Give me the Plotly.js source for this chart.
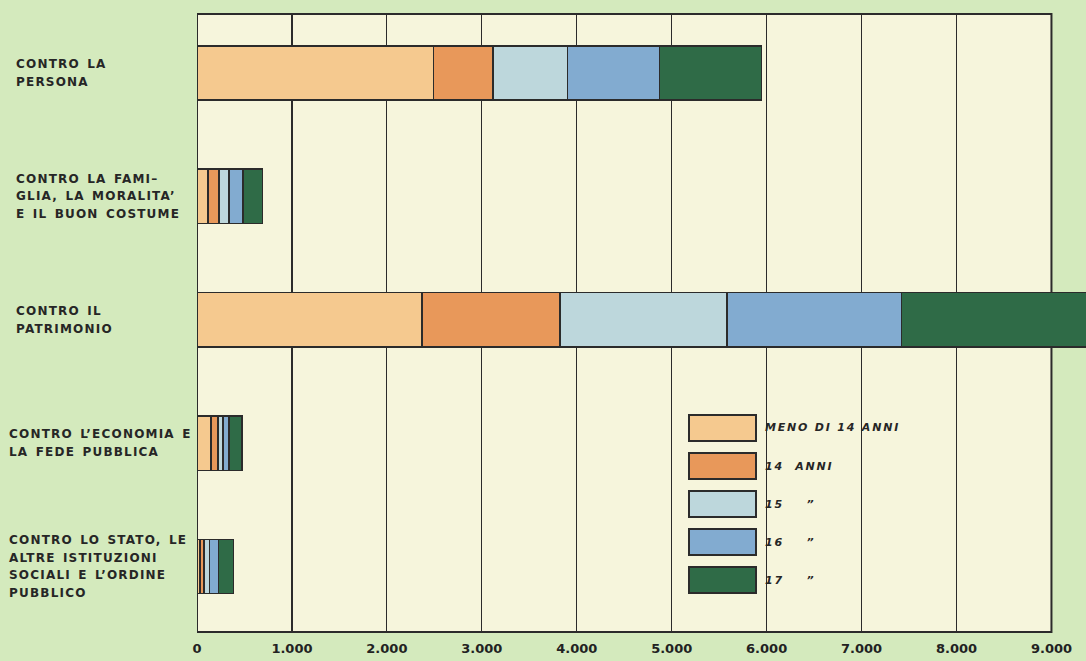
<!DOCTYPE html>
<html>
<head>
<meta charset="utf-8">
<script src="https://cdn.plot.ly/plotly-3.0.1.min.js"></script>
<style>
  html, body { margin: 0; padding: 0; background: #d4eabd; }
  #chart { width: 1086px; height: 661px; }
</style>
</head>
<body>
<div id="chart"></div>
<script>
// ---- data ----
const categories = ['persona', 'famiglia', 'patrimonio', 'economia', 'stato'];
const categoryLines = [
  ['CONTRO LA', 'PERSONA'],
  ['CONTRO LA FAMI\u2013', 'GLIA, LA MORALITA\u2019', 'E IL BUON COSTUME'],
  ['CONTRO IL', 'PATRIMONIO'],
  ['CONTRO L\u2019ECONOMIA E', 'LA FEDE PUBBLICA'],
  ['CONTRO LO STATO, LE', 'ALTRE ISTITUZIONI', 'SOCIALI E L\u2019ORDINE', 'PUBBLICO']
];
const seriesNames = ['MENO DI 14 ANNI', '14 ANNI', '15', '16', '17'];
const legendLabels = ['MENO DI 14 ANNI', '14&nbsp;&nbsp;ANNI', '15&nbsp;&nbsp;&nbsp;&nbsp;\u201D', '16&nbsp;&nbsp;&nbsp;&nbsp;\u201D', '17&nbsp;&nbsp;&nbsp;&nbsp;\u201D'];
const meno14 = [2490, 115, 2370, 150, 30];
const anni14 = [630, 115, 1455, 70, 45];
const anni15 = [780, 105, 1760, 53, 55];
const anni16 = [970, 148, 1835, 63, 95];
const anni17 = [1075, 205, 2050, 137, 160];
const tickVals = [0, 1000, 2000, 3000, 4000, 5000, 6000, 7000, 8000, 9000];
const tickText = ['0', '1.000', '2.000', '3.000', '4.000', '5.000', '6.000', '7.000', '8.000', '9.000'];
const frameMax = 9000;

// ---- styles ----
const colors = ['#f5c98f', '#e8985a', '#bdd7dc', '#82abd0', '#2f6b47'];
const lineColor = '#2b2b2b';
const W = 1086, H = 661, ML = 197, MR = 0, MT = 14, MB = 29;
const PW = W - ML - MR, PH = H - MT - MB;
const pxPer1000 = 94.94;
const xMax = PW / pxPer1000 * 1000;
const labelLeft = [14, 14, 14, 7, 7];

const values = [meno14, anni14, anni15, anni16, anni17];
const traces = values.map((v, i) => ({
  type: 'bar',
  orientation: 'h',
  name: seriesNames[i],
  y: categories,
  x: v,
  width: 0.44,
  marker: { color: colors[i], line: { color: lineColor, width: 1.5 } },
  hoverinfo: 'x+name'
}));

const shapes = [
  { type: 'rect', xref: 'x', yref: 'paper', x0: 0, x1: frameMax, y0: 0, y1: 1,
    fillcolor: '#f6f5dc', line: { width: 0 }, layer: 'below' },
  { type: 'rect', xref: 'x', yref: 'paper', x0: 0, x1: frameMax, y0: 0, y1: 1,
    fillcolor: 'rgba(0,0,0,0)', line: { color: lineColor, width: 2 }, layer: 'between' }
];

const annotations = [];
const lsp = 17.7;
categoryLines.forEach((lines, i) => {
  const n = lines.length;
  lines.forEach((t, j) => {
    annotations.push({
      xref: 'paper', yref: 'y', x: (labelLeft[i] - ML) / PW, y: categories[i],
      xanchor: 'left', yanchor: 'middle',
      yshift: ((n - 1) / 2 - j) * lsp,
      showarrow: false,
      text: '<span style="letter-spacing:1.2px;word-spacing:2px">' + t + '</span>',
      font: { family: 'DejaVu Sans', size: 12, color: '#262626', weight: 'bold' }
    });
  });
});

// legend (manual, big swatches)
const legTop = 415, legStep = 38, boxH = 26, boxX0 = 689, boxX1 = 756, textX = 763;
const px2x = p => (p - ML) / PW;
const py2y = p => (H - MB - p) / PH;
seriesNames.forEach((s, i) => {
  const y0 = legTop + i * legStep;
  shapes.push({
    type: 'rect', xref: 'paper', yref: 'paper',
    x0: px2x(boxX0), x1: px2x(boxX1), y0: py2y(y0 + boxH), y1: py2y(y0),
    fillcolor: colors[i], line: { color: lineColor, width: 2 }, layer: 'above'
  });
  annotations.push({
    xref: 'paper', yref: 'paper', x: px2x(textX), y: py2y(y0 + boxH / 2),
    xanchor: 'left', yanchor: 'middle', showarrow: false,
    text: '<i><span style="letter-spacing:1.8px">' + legendLabels[i] + '</span></i>',
    font: { family: 'DejaVu Sans', size: 11, color: '#262626', weight: 'bold' }
  });
});

const layout = {
  width: W, height: H,
  margin: { l: ML, r: MR, t: MT, b: MB, pad: 0 },
  paper_bgcolor: '#d4eabd',
  plot_bgcolor: 'rgba(0,0,0,0)',
  barmode: 'stack',
  showlegend: false,
  xaxis: {
    range: [0, xMax],
    tickvals: tickVals, ticktext: tickText,
    showgrid: true, gridcolor: lineColor, gridwidth: 1.2,
    zeroline: false, showline: false, ticks: '',
    tickfont: { family: 'DejaVu Sans', size: 13, color: '#222', weight: 'bold' },
    ticklabelstandoff: 7,
    fixedrange: true
  },
  yaxis: {
    type: 'category', categoryorder: 'array', categoryarray: categories,
    range: [4.531, -0.478],
    showticklabels: false, showgrid: false, zeroline: false, ticks: '',
    fixedrange: true
  },
  shapes: shapes,
  annotations: annotations
};

Plotly.newPlot('chart', traces, layout, { displayModeBar: false, staticPlot: true });
</script>
</body>
</html>
